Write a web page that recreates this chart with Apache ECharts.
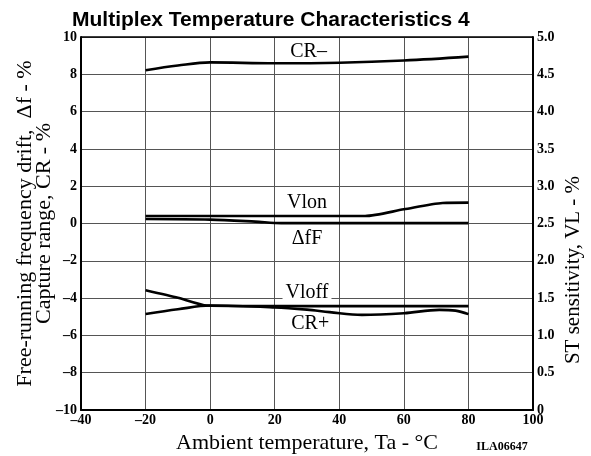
<!DOCTYPE html>
<html><head><meta charset="utf-8">
<script src="https://cdn.jsdelivr.net/npm/echarts@6/dist/echarts.min.js"></script>
<style>html,body{margin:0;padding:0;background:#fff}#c{width:591px;height:456px}</style>
</head><body><div id="c"></div>
<script>
// ---- data ----
const xTicks = [-40, -20, 0, 20, 40, 60, 80, 100];
const leftTicks = [-10, -8, -6, -4, -2, 0, 2, 4, 6, 8, 10];
const rightTicks = [0, 0.5, 1.0, 1.5, 2.0, 2.5, 3.0, 3.5, 4.0, 4.5, 5.0];

// CR- (left axis, %)
const crMinusT = [-20, -10, 0, 20, 40, 60, 80];
const crMinusV = [8.22, 8.47, 8.64, 8.59, 8.62, 8.74, 8.95];
// Vlon (right axis, ST sensitivity %)
const vlonT = [-20, 0, 20, 40, 48, 60, 72, 80];
const vlonV = [2.6, 2.6, 2.6, 2.6, 2.6, 2.69, 2.775, 2.78];
// ΔfF (left axis, %)
const dfT = [-20, 0, 14, 22, 40, 60, 80];
const dfV = [0.24, 0.21, 0.1, 0.02, 0.02, 0.02, 0.02];
// Vloff (right axis, %)
const vloffT = [-20, -10, -1, 20, 40, 60, 80];
const vloffV = [1.605, 1.505, 1.40, 1.392, 1.392, 1.392, 1.392];
// CR+ (left axis, %)
const crPlusT = [-20, -10, 0, 20, 30, 37, 47, 60, 71, 76, 80];
const crPlusV = [-4.85, -4.6, -4.4, -4.5, -4.62, -4.75, -4.9, -4.81, -4.63, -4.67, -4.86];

// curve label anchors (data coords, left axis)
const curveLabels = ['CR\u2013', 'Vlon', '\u0394fF', 'Vloff', 'CR+'];
const labelT = [30.5, 30, 30, 30, 31];
const labelV = [9.2, 1.1, -0.8, -3.7, -5.4];

const pair = (t, v) => t.map((x, i) => [x, v[i]]);
const serif = '"Liberation Serif","Times New Roman",serif';
const dash = n => (n < 0 ? '\u2013' + Math.abs(n) : String(n));

const chart = echarts.init(document.getElementById('c'));
const lineStyle = { color: '#000', width: 2.6 };
const mk = (name, data, yi, sm) => ({
  name, type: 'line', data, yAxisIndex: yi, showSymbol: false, symbol: 'none',
  smooth: sm, lineStyle, silent: true, z: 5
});
const tickFont = { fontFamily: serif, fontWeight: 'bold', fontSize: 14, color: '#000' };

chart.setOption({
  animation: false,
  backgroundColor: '#fff',
  title: {
    text: 'Multiplex Temperature Characteristics 4',
    left: 67, top: 5,
    textStyle: { fontFamily: '"Liberation Sans", Arial, sans-serif', fontWeight: 'bold', fontSize: 21, color: '#000' }
  },
  grid: { left: 81, right: 58, top: 37, bottom: 46, containLabel: false, outerBoundsMode: 'none' },
  xAxis: {
    type: 'value', min: -40, max: 100, interval: 20,
    axisLine: { show: true, onZero: false, lineStyle: { color: '#000', width: 2 } },
    axisTick: { show: false },
    splitLine: { show: true, lineStyle: { color: '#555', width: 1 } },
    axisLabel: Object.assign({ formatter: v => dash(v), margin: 3 }, tickFont),
    name: 'Ambient temperature, Ta - \u00B0C', nameLocation: 'middle', nameGap: 20,
    nameTextStyle: { fontFamily: serif, fontSize: 22, color: '#000' }
  },
  yAxis: [{
    type: 'value', min: -10, max: 10, interval: 2,
    axisLine: { show: true, onZero: false, lineStyle: { color: '#000', width: 2 } },
    axisTick: { show: false },
    splitLine: { show: true, lineStyle: { color: '#555', width: 1 } },
    axisLabel: Object.assign({ formatter: v => dash(v), margin: 4 }, tickFont),
    name: 'Free-running frequency drift,  \u0394f - %\nCapture range, CR - %',
    nameLocation: 'middle', nameGap: 27, nameRotate: 90, nameMoveOverlap: false,
    nameTextStyle: { fontFamily: serif, fontSize: 22, color: '#000', lineHeight: 19 }
  }, {
    type: 'value', min: 0, max: 5, interval: 0.5, position: 'right',
    axisLine: { show: true, onZero: false, lineStyle: { color: '#000', width: 2 } },
    axisTick: { show: false },
    splitLine: { show: false },
    axisLabel: Object.assign({ formatter: v => (v === 0 ? '0' : v.toFixed(1)), margin: 4 }, tickFont)
  }],
  series: [
    mk('CR-', pair(crMinusT, crMinusV), 0, 0.35),
    mk('Vlon', pair(vlonT, vlonV), 1, 0.25),
    mk('dfF', pair(dfT, dfV), 0, 0.3),
    mk('Vloff', pair(vloffT, vloffV), 1, 0.2),
    mk('CR+', pair(crPlusT, crPlusV), 0, 0.35)
  ]
});

const g = [];
// top border
const tl = chart.convertToPixel({ xAxisIndex: 0, yAxisIndex: 0 }, [-40, 10]);
const tr = chart.convertToPixel({ xAxisIndex: 0, yAxisIndex: 0 }, [100, 10]);
g.push({ type: 'line', shape: { x1: tl[0], y1: tl[1], x2: tr[0], y2: tr[1] }, style: { stroke: '#000', lineWidth: 1.5 }, z: 6 });
curveLabels.forEach((t, i) => {
  const p = chart.convertToPixel({ xAxisIndex: 0, yAxisIndex: 0 }, [labelT[i], labelV[i]]);
  g.push({
    type: 'text', x: p[0], y: p[1], z: 10,
    style: {
      text: t, fill: '#000', font: '20px ' + serif, align: 'center', verticalAlign: 'middle',
      backgroundColor: i === 3 ? '#fff' : null, padding: i === 3 ? [0, 3] : 0
    }
  });
});
// right axis name
const rb = chart.convertToPixel({ xAxisIndex: 0, yAxisIndex: 1 }, [100, 1.05]);
g.push({
  type: 'text', x: rb[0] + 40, y: 270, rotation: Math.PI / 2, z: 10,
  style: { text: 'ST sensitivity, VL - %', fill: '#000', font: '21px ' + serif, align: 'center', verticalAlign: 'middle' }
});
// figure codes
g.push({ type: 'text', x: 502, y: 447, style: { text: 'ILA06647', fill: '#000', font: 'bold 12px ' + serif, align: 'center', verticalAlign: 'middle' } });
g.push({ type: 'text', x: 545, y: -4, style: { text: 'ILA06645', fill: '#000', font: 'bold 12px ' + serif, align: 'center', verticalAlign: 'middle' } });
chart.setOption({ graphic: g });
</script></body></html>
